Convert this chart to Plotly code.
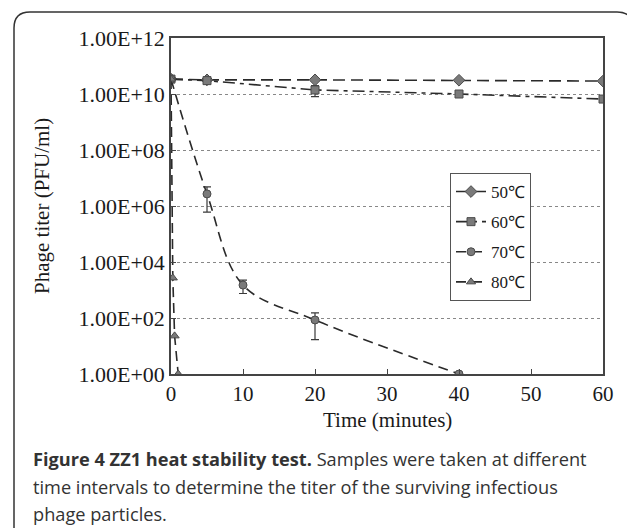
import plotly.graph_objects as go

# ---- data ----
series_names = ["50℃", "60℃", "70℃", "80℃"]
times_50 = [0, 5, 20, 40, 60]
titer_50 = [3.4e10, 3.2e10, 3.2e10, 3.1e10, 2.9e10]
times_60 = [0, 5, 20, 40, 60]
titer_60 = [3.4e10, 3.0e10, 1.4e10, 1.0e10, 6.6e9]
err_60 = [0, 0, 6e9, 0, 0]
times_70 = [0, 5, 10, 20, 40]
titer_70 = [3.4e10, 2.7e6, 1.5e3, 85, 1]
err_70 = [0, 2.1e6, 750, 68, 0]
times_80 = [0, 0.25, 0.5, 1]
titer_80 = [3.4e10, 2.7e3, 23, 1]
y_tickvals = [1, 1e2, 1e4, 1e6, 1e8, 1e10, 1e12]
y_ticktext = ["1.00E+00", "1.00E+02", "1.00E+04", "1.00E+06", "1.00E+08", "1.00E+10", "1.00E+12"]
x_tickvals = [0, 10, 20, 30, 40, 50, 60]
x_title = "Time (minutes)"
y_title = "Phage titer (PFU/ml)"

caption_bold = "Figure 4 ZZ1 heat stability test."
caption_lines = [" Samples were taken at different",
                 "time intervals to determine the titer of the surviving infectious",
                 "phage particles."]

# ---- layout geometry (page pixels; the page body adds an 8px margin) ----
OFF = 8
W, H = 635 - OFF, 528 - OFF
L, R, T, B = 171 - OFF, 32, 38 - OFF, 154
PW, PH = W - L - R, H - T - B

def px(x):  # page pixel -> paper
    return (x - OFF - L) / PW

def py(y):
    return (H - B - (y - OFF)) / PH

MARK_FILL = "#7a7a7a"
MARK_LINE = "#4a4a4a"
LINE_COL = "#2a2a2a"
SERIF = "Liberation Serif, Times New Roman, serif"

fig = go.Figure()

def add(name, xs, ys, symbol, size, dash, err=None, shape="linear"):
    kw = {}
    if err is not None:
        kw["error_y"] = dict(type="data", array=err, visible=True,
                             color="#3a3a3a", thickness=1.2, width=4)
    fig.add_trace(go.Scatter(
        x=xs, y=ys, name=name, mode="lines+markers",
        line=dict(color=LINE_COL, width=1.6, dash=dash, shape=shape),
        marker=dict(symbol=symbol, size=size, color=MARK_FILL,
                    line=dict(color=MARK_LINE, width=1)),
        legendgroup=name, **kw))

add(series_names[0], times_50, titer_50, "diamond", 9, "12px,6px")
add(series_names[1], times_60, titer_60, "square", 8, "12px,5px,4px,5px", err_60)
add(series_names[2], times_70, titer_70, "circle", 8, "10px,6px", err_70, shape="spline")
add(series_names[3], times_80, titer_80, "triangle-up", 8, "10px,6px")

# outer rounded frame
x0, y0, x1, y1, r = 14, 12, 633, 545, 16
path = (f"M {px(x0)},{py(y1)} L {px(x0)},{py(y0 + r)} "
        f"Q {px(x0)},{py(y0)} {px(x0 + r)},{py(y0)} "
        f"L {px(x1 - r)},{py(y0)} Q {px(x1)},{py(y0)} {px(x1)},{py(y0 + r)} "
        f"L {px(x1)},{py(y1)}")
fig.add_shape(type="path", path=path, xref="paper", yref="paper",
              line=dict(color="#333333", width=1.5), layer="below")

cap_font = dict(family="Open Sans, Noto Sans, sans-serif", size=18.2, color="#333333")
for txt, yy in [(f"<b>{caption_bold}</b>{caption_lines[0]}", 459),
                (caption_lines[1], 487), (caption_lines[2], 514)]:
    fig.add_annotation(text=txt, x=px(31), y=py(yy), xref="paper", yref="paper",
                       xanchor="left", yanchor="middle", showarrow=False, font=cap_font)

# axis titles
fig.add_annotation(text=x_title, x=0.5, y=py(420), xref="paper", yref="paper",
                   xanchor="center", yanchor="middle", showarrow=False,
                   font=dict(family=SERIF, size=21, color="#1a1a1a"))
fig.add_annotation(text=y_title, x=px(42), y=0.5, xref="paper", yref="paper",
                   xanchor="center", yanchor="middle", showarrow=False, textangle=-90,
                   font=dict(family=SERIF, size=21, color="#1a1a1a"))

fig.update_layout(
    width=W, height=H,
    margin=dict(l=L, r=R, t=T, b=B, autoexpand=False),
    paper_bgcolor="white", plot_bgcolor="white",
    font=dict(family=SERIF, size=20, color="#1a1a1a"),
    showlegend=True,
    legend=dict(x=px(450), y=py(173), xanchor="left", yanchor="top",
                bgcolor="white", bordercolor="#555555", borderwidth=1,
                font=dict(family=SERIF, size=17, color="#1a1a1a"),
                tracegroupgap=5, itemwidth=30),
    xaxis=dict(range=[0, 60], tickvals=x_tickvals, ticks="inside", ticklen=5,
               tickcolor="#444", showgrid=False, zeroline=False,
               showline=True, mirror=True, linecolor="#444", linewidth=1.5,
               tickfont=dict(size=21)),
    yaxis=dict(type="log", range=[0, 12], tickvals=y_tickvals, ticktext=y_ticktext,
               ticks="inside", ticklen=5, tickcolor="#444",
               showgrid=True, gridcolor="#888888", griddash="dot", gridwidth=1,
               zeroline=False, showline=True, mirror=True, linecolor="#444",
               linewidth=1.5, tickfont=dict(size=22)),
)

fig.write_html("out.html")
